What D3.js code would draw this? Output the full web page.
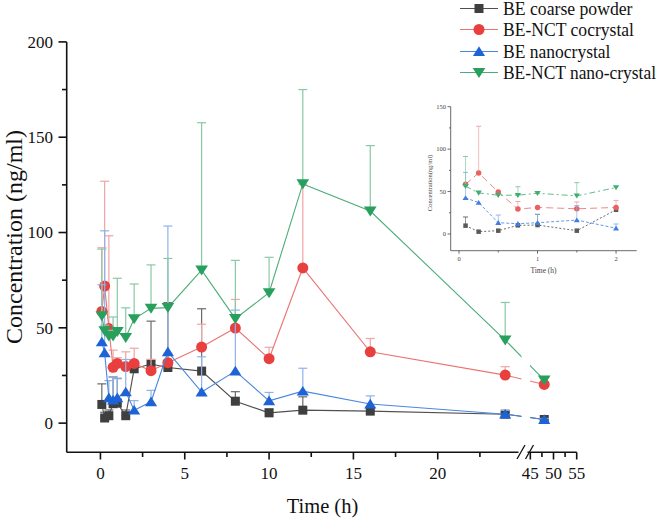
<!DOCTYPE html>
<html><head><meta charset="utf-8">
<script src="https://cdn.jsdelivr.net/npm/d3@7"></script>
<style>
body{margin:0;background:#fff;}
svg{display:block;font-family:"Liberation Serif","Times New Roman",serif;}
</style>
</head><body>
<svg id="c" width="660" height="518"></svg>
<script>
// ---------- data ----------
const times = [0.083, 0.25, 0.5, 0.75, 1, 1.5, 2, 3, 4, 6, 8, 10, 12, 16, 24, 48];
const seriesNames = ["BE coarse powder", "BE-NCT cocrystal", "BE nanocrystal", "BE-NCT nano-crystal"];
const coarse     = [9.8, 2.7, 3.9, 10.2, 10.5, 3.9, 28.5, 31.0, 29.2, 27.3, 11.5, 5.4, 6.8, 6.3, 4.7, 1.9];
const coarseSD   = [10.8, 3, 3, 14, 13, 3, 2, 22.5, 34, 32.7, 5, 2, 7, 2, 1, 0.5];
const cocrystal  = [58.6, 71.9, 49.6, 29.3, 31.3, 29.7, 31.3, 27.5, 31.7, 39.9, 49.9, 33.8, 81.4, 37.4, 25.2, 20.3];
const cocrystalSD= [33.4, 55, 48.7, 9, 3, 7.7, 8, 6, 5, 12, 15, 6, 44, 7, 4.4, 1];
const nano       = [42.6, 36.9, 13.3, 12.1, 13.3, 16.4, 6.8, 11.2, 37.4, 16.3, 27.3, 11.7, 16.8, 10.0, 4.7, 1.9];
const nanoSD     = [30, 64, 9, 12, 10, 17, 5, 6, 66, 18.5, 32, 4.4, 12, 4.3, 2, 0.5];
const nanoCo     = [56.3, 48.4, 45.7, 45.7, 48.0, 44.9, 54.7, 60.2, 60.6, 80.3, 54.8, 68.4, 125.5, 111.3, 43.6, 22.6];
const nanoCoSD   = [35, 3, 3, 10, 28, 15.6, 18.3, 22.8, 25.8, 77.3, 30.6, 18.6, 49.5, 34.3, 19.7, 1];

// inset (first 7 time points) error bars
const insetCoarseSD    = [10.2, 0, 0, 0, 12.5, 0, 0];
const insetCocrystalSD = [0, 55, 0, 9, 0, 8, 8];
const insetNanoSD      = [30, 0, 9, 0, 10, 17, 5];
const insetNanoCoSD    = [35, 0, 0, 10, 0, 15.6, 0];

const yTicks = [0, 50, 100, 150, 200];
const yMinor = [25, 75, 125, 175];
const xTicks = [0, 5, 10, 15, 20, 45, 50, 55];
const xMinor = [2.5, 7.5, 12.5, 17.5, 22.5, 47.5, 52.5];
const insetYTicks = [0, 50, 100, 150];
const insetYMinor = [25, 75, 125];
const insetXTicks = [0, 1, 2];
const insetXMinor = [0.5, 1.5];

// ---------- styles ----------
const styles = [
  {shape:"square",  fill:"#3f3f3f", line:"#505050", err:"#6a6a6a", dash:"2,2",     ifill:"#5a5a5a"},
  {shape:"circle",  fill:"#e8403f", line:"#ea7474", err:"#f0a4a4", dash:"7,4",     ifill:"#e86262"},
  {shape:"up",      fill:"#1d63d6", line:"#4a86e0", err:"#8fb2ea", dash:"3,2",     ifill:"#3f7fe0"},
  {shape:"down",    fill:"#26a05c", line:"#4cad77", err:"#88c9a4", dash:"6,3,2,3", ifill:"#3fae70"}
];
const values = [coarse, cocrystal, nano, nanoCo];
const sds = [coarseSD, cocrystalSD, nanoSD, nanoCoSD];
const insetSds = [insetCoarseSD, insetCocrystalSD, insetNanoSD, insetNanoCoSD];

function markerPath(shape, s){
  const h = s/2;
  if(shape==="square") return `M${-h},${-h}H${h}V${h}H${-h}Z`;
  if(shape==="circle") return d3.symbol(d3.symbolCircle, Math.PI*h*h)();
  if(shape==="up") { const w=h*1.1; return `M0,${-h*0.95}L${w},${h*0.8}L${-w},${h*0.8}Z`; }
  if(shape==="down") { const w=h*1.1; return `M0,${h*0.95}L${w},${-h*0.8}L${-w},${-h*0.8}Z`; }
}
const markerSize = {square:9, circle:11, up:11, down:11.5};

const svg = d3.select("#c");
svg.append("rect").attr("width",660).attr("height",518).attr("fill","#ffffff");

// ---------- main scales ----------
const x = d3.scaleLinear().domain([-2, 24.7, 44.35, 55]).range([66.7, 517, 527.3, 576.7]);
const y = d3.scaleLinear().domain([-15.3, 200]).range([452.3, 41.9]);

const defs = svg.append("defs");
const cp = defs.append("clipPath").attr("id","brk");
cp.append("rect").attr("x",0).attr("y",0).attr("width",521.5).attr("height",518);
cp.append("rect").attr("x",530).attr("y",0).attr("width",130).attr("height",518);

// ---------- inset ----------
const ix = d3.scaleLinear().domain([-0.106, 2.263]).range([450.7, 636.7]);
const iy = d3.scaleLinear().domain([-19.7, 150]).range([250.7, 106.7]);
const inset = svg.append("g");
const nIn = 7;
values.forEach((vals, si) => {
  const st = styles[si];
  const g = inset.append("g");
  const pts = times.slice(0,nIn).map((t,i)=>({t, v:vals[i], sd:insetSds[si][i]}));
  pts.filter(p=>p.sd>0).forEach(p=>{
    const top = p.v+p.sd;
    g.append("line").attr("x1",ix(p.t)).attr("x2",ix(p.t)).attr("y1",iy(p.v)).attr("y2",iy(top))
      .attr("stroke",st.err).attr("stroke-width",1).attr("opacity",0.7);
    g.append("line").attr("x1",ix(p.t)-2.5).attr("x2",ix(p.t)+2.5).attr("y1",iy(top)).attr("y2",iy(top))
      .attr("stroke",st.err).attr("stroke-width",1);
  });
  g.append("path").datum(pts).attr("fill","none").attr("stroke",st.line).attr("stroke-width",1)
    .attr("stroke-dasharray",st.dash).attr("opacity",0.85)
    .attr("d", d3.line().x(d=>ix(d.t)).y(d=>iy(d.v)));
  g.selectAll(".m").data(pts).enter().append("path")
    .attr("transform",d=>`translate(${ix(d.t)},${iy(d.v)})`)
    .attr("d", markerPath(st.shape, markerSize[st.shape]*0.5)).attr("fill",st.ifill);
});
const ic = "#444";
inset.append("line").attr("x1",450.7).attr("x2",450.7).attr("y1",106.7).attr("y2",250.7).attr("stroke",ic).attr("stroke-width",0.8);
inset.append("line").attr("x1",450.7).attr("x2",636.7).attr("y1",250.7).attr("y2",250.7).attr("stroke",ic).attr("stroke-width",0.8);
insetYTicks.forEach(v=>{
  inset.append("line").attr("x1",447.5).attr("x2",450.7).attr("y1",iy(v)).attr("y2",iy(v)).attr("stroke",ic).attr("stroke-width",0.8);
  inset.append("text").attr("x",446).attr("y",iy(v)).attr("dy","0.35em").attr("text-anchor","end")
    .attr("font-size",6.5).attr("fill",ic).text(v);
});
insetYMinor.forEach(v=>{
  inset.append("line").attr("x1",449).attr("x2",450.7).attr("y1",iy(v)).attr("y2",iy(v)).attr("stroke",ic).attr("stroke-width",0.8);
});
insetXTicks.forEach(v=>{
  inset.append("line").attr("x1",ix(v)).attr("x2",ix(v)).attr("y1",250.7).attr("y2",253.7).attr("stroke",ic).attr("stroke-width",0.8);
  inset.append("text").attr("x",ix(v)).attr("y",260.5).attr("text-anchor","middle")
    .attr("font-size",6.5).attr("fill",ic).text(v);
});
insetXMinor.forEach(v=>{
  inset.append("line").attr("x1",ix(v)).attr("x2",ix(v)).attr("y1",250.7).attr("y2",252.5).attr("stroke",ic).attr("stroke-width",0.8);
});
inset.append("text").attr("x",543.5).attr("y",272.5).attr("text-anchor","middle").attr("font-size",7.5).attr("fill",ic).text("Time (h)");
inset.append("text").attr("transform","translate(432,183) rotate(-90)").attr("text-anchor","middle")
  .attr("font-size",6.5).attr("fill",ic).text("Concentration(ng/ml)");

// ---------- main series ----------
values.forEach((vals, si) => {
  const st = styles[si];
  const g = svg.append("g");
  const pts = times.map((t,i)=>({t, v:vals[i], sd:sds[si][i]}));
  const eg = g.append("g");
  pts.forEach(p=>{
    eg.append("line").attr("x1",x(p.t)).attr("x2",x(p.t)).attr("y1",y(p.v)).attr("y2",y(p.v+p.sd))
      .attr("stroke",st.err).attr("stroke-width",1.2);
    eg.append("line").attr("x1",x(p.t)-4.5).attr("x2",x(p.t)+4.5).attr("y1",y(p.v+p.sd)).attr("y2",y(p.v+p.sd))
      .attr("stroke",st.err).attr("stroke-width",1.2);
  });
  g.append("path").datum(pts).attr("fill","none").attr("stroke",st.line).attr("stroke-width",1.1)
    .attr("clip-path","url(#brk)")
    .attr("d", d3.line().x(d=>x(d.t)).y(d=>y(d.v)));
  g.selectAll(".m").data(pts).enter().append("path")
    .attr("transform",d=>`translate(${x(d.t)},${y(d.v)})`)
    .attr("d", markerPath(st.shape, markerSize[st.shape])).attr("fill",st.fill);
});

// ---------- main axes ----------
const ax = svg.append("g").attr("stroke","#111").attr("stroke-width",1.6);
ax.append("line").attr("x1",66.7).attr("x2",66.7).attr("y1",y(200)).attr("y2",452.3);
ax.append("line").attr("x1",66.7).attr("x2",518.5).attr("y1",452.3).attr("y2",452.3);
ax.append("line").attr("x1",527.5).attr("x2",576.7).attr("y1",452.3).attr("y2",452.3);
ax.append("line").attr("x1",517).attr("x2",525).attr("y1",459).attr("y2",445).attr("stroke-width",1.3);
ax.append("line").attr("x1",525.5).attr("x2",533.5).attr("y1",459).attr("y2",445).attr("stroke-width",1.3);

yTicks.forEach(v=>{
  ax.append("line").attr("x1",58.5).attr("x2",66.7).attr("y1",y(v)).attr("y2",y(v));
  svg.append("text").attr("x",53).attr("y",y(v)).attr("dy","0.35em").attr("text-anchor","end")
    .attr("font-size",17).attr("fill","#111").text(v);
});
yMinor.forEach(v=>{
  ax.append("line").attr("x1",62).attr("x2",66.7).attr("y1",y(v)).attr("y2",y(v));
});
xTicks.forEach(v=>{
  ax.append("line").attr("x1",x(v)).attr("x2",x(v)).attr("y1",452.3).attr("y2",459.5);
  svg.append("text").attr("x",x(v)).attr("y",479).attr("text-anchor","middle")
    .attr("font-size",17).attr("fill","#111").text(v);
});
xMinor.forEach(v=>{
  ax.append("line").attr("x1",x(v)).attr("x2",x(v)).attr("y1",452.3).attr("y2",457);
});
svg.append("text").attr("x",322.5).attr("y",513).attr("text-anchor","middle")
  .attr("font-size",20.5).attr("fill","#111").text("Time (h)");
svg.append("text").attr("transform","translate(22,237) rotate(-90)").attr("text-anchor","middle")
  .attr("font-size",24).attr("fill","#111").text("Concentration (ng/ml)");

// ---------- legend ----------
const legRows = [8.5, 29.5, 51.5, 72.5];
const legTextWidth = [129.5, 131, 107.5, 153];
seriesNames.forEach((name, si)=>{
  const st = styles[si];
  const gy = legRows[si];
  svg.append("line").attr("x1",460).attr("x2",498).attr("y1",gy).attr("y2",gy)
    .attr("stroke",st.line).attr("stroke-width",1.1);
  svg.append("path").attr("transform",`translate(479,${gy})`)
    .attr("d", markerPath(st.shape, markerSize[st.shape])).attr("fill",st.fill);
  svg.append("text").attr("x",503).attr("y",gy).attr("dy","0.35em").attr("font-size",18)
    .attr("textLength",legTextWidth[si]).attr("lengthAdjust","spacingAndGlyphs")
    .attr("fill","#111").text(name);
});
</script>
</body></html>
